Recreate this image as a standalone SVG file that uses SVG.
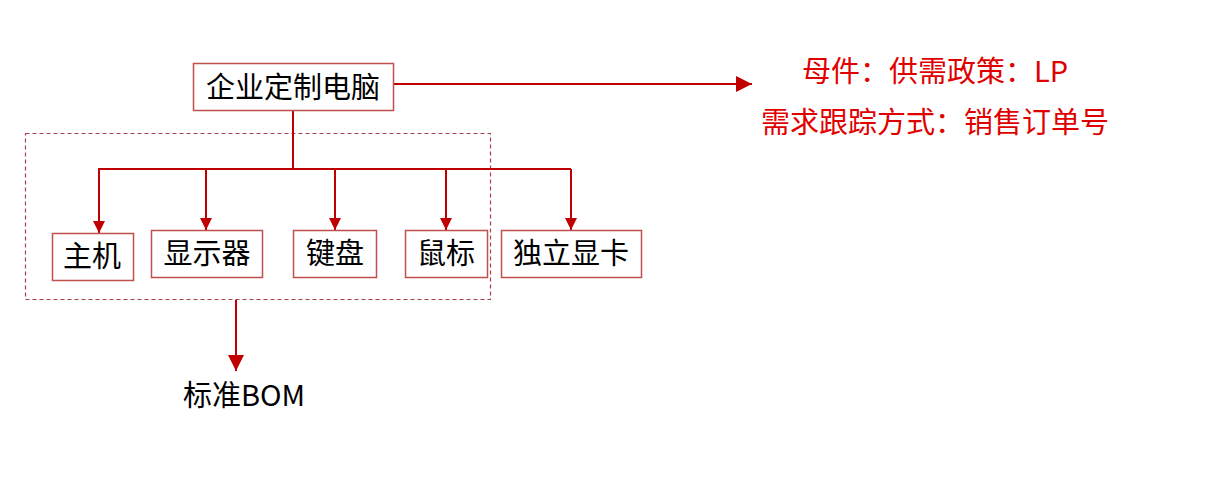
<svg xmlns="http://www.w3.org/2000/svg" width="1209" height="484" viewBox="0 0 1209 484">
<style>
.box{fill:#fff;stroke:#C0504D;stroke-width:1.5}
.t{font-family:"Noto Sans CJK SC","Microsoft YaHei",sans-serif;font-size:29px;fill:#000;text-anchor:middle}
.r{font-family:"Noto Sans CJK SC","Microsoft YaHei",sans-serif;font-size:29px;fill:#E00000;text-anchor:middle}
.c{fill:none;stroke:#C00000;stroke-width:2}
</style>
<defs>
<marker id="ah" viewBox="0 0 10 10" refX="10" refY="5" markerWidth="6" markerHeight="6" orient="auto" markerUnits="strokeWidth">
<path d="M0,0 L10,5 L0,10 z" fill="#C00000"/>
</marker>
<marker id="ah2" viewBox="0 0 10 10" refX="10" refY="5" markerWidth="8" markerHeight="8" orient="auto" markerUnits="strokeWidth">
<path d="M0,0 L10,5 L0,10 z" fill="#C00000"/>
</marker>
</defs>
<rect width="1209" height="484" fill="#fff"/>
<rect id="group-standard-bom" x="25.5" y="133.5" width="465" height="166" fill="none" stroke="#A8404C" stroke-width="1.2" stroke-dasharray="4,3"/>
<g id="connectors">
<path class="c" d="M393,84 H752" marker-end="url(#ah2)" stroke-width="1.6"/>
<path class="c" d="M293,110 V169" stroke-width="2.5"/>
<path class="c" d="M98,169 H571"/>
<path class="c" d="M99,169 V233" marker-end="url(#ah)"/>
<path class="c" d="M206,169 V230" marker-end="url(#ah)"/>
<path class="c" d="M335,169 V230" marker-end="url(#ah)"/>
<path class="c" d="M446,169 V230" marker-end="url(#ah)"/>
<path class="c" d="M571,169 V230" marker-end="url(#ah)"/>
<path class="c" d="M236,300 V371" marker-end="url(#ah2)" stroke-width="1.6"/>
</g>
<g id="node-pc"><rect class="box" x="193.5" y="63.5" width="200" height="47"/><text class="t" x="293" y="98">企业定制电脑</text></g>
<g id="node-host"><rect class="box" x="52.5" y="233.5" width="81" height="47"/><text class="t" x="92" y="267">主机</text></g>
<g id="node-monitor"><rect class="box" x="151.5" y="230.5" width="111" height="47"/><text class="t" x="207" y="264">显示器</text></g>
<g id="node-keyboard"><rect class="box" x="293.5" y="230.5" width="83" height="47"/><text class="t" x="335" y="264">键盘</text></g>
<g id="node-mouse"><rect class="box" x="405.5" y="230.5" width="82" height="47"/><text class="t" x="446" y="264">鼠标</text></g>
<g id="node-gpu"><rect class="box" x="501.5" y="230.5" width="140" height="47"/><text class="t" x="571" y="264">独立显卡</text></g>
<g id="node-bom"><text class="t" x="244" y="406">标准BOM</text></g>
<g id="note">
<text class="r" x="935" y="82">母件：供需政策：LP</text>
<text class="r" x="935" y="133">需求跟踪方式：销售订单号</text>
</g>
</svg>
